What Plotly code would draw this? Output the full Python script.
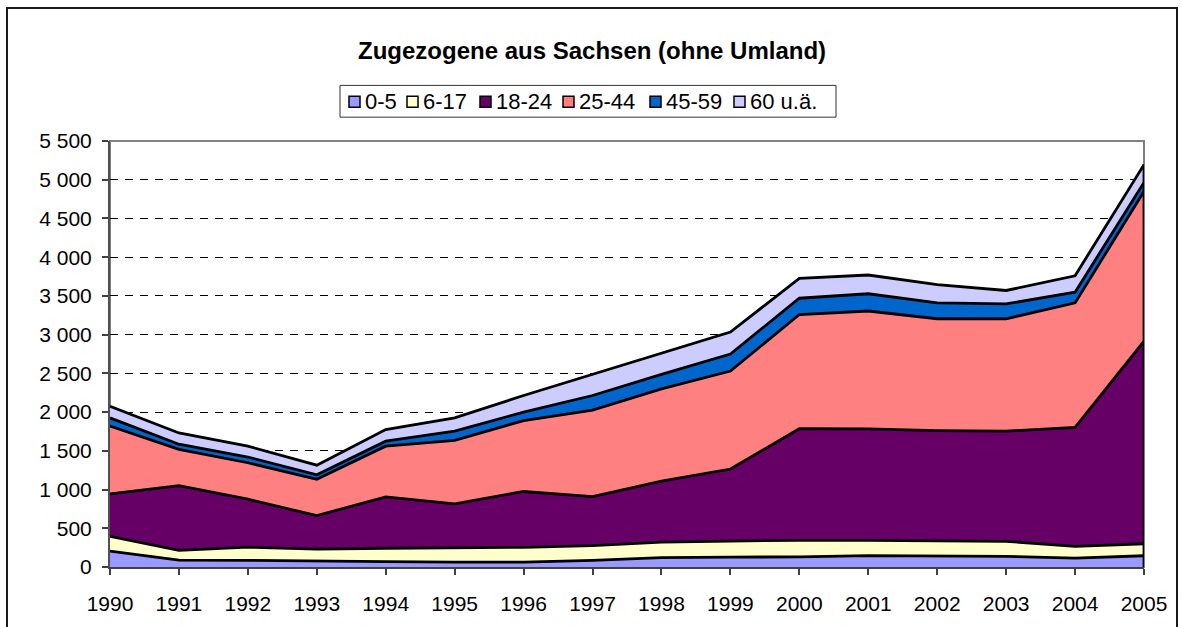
import plotly.graph_objects as go

# ---------------- data ----------------
years = list(range(1990, 2006))
series_names = ["0-5", "6-17", "18-24", "25-44", "45-59", "60 u.ä."]
age_0_5 =   [205, 88, 86, 75, 70, 64, 64, 86, 120, 128, 130, 148, 138, 137, 115, 145]
age_6_17 =  [190, 126, 170, 155, 172, 181, 190, 189, 200, 207, 215, 195, 197, 195, 152, 155]
age_18_24 = [550, 836, 620, 433, 664, 570, 721, 633, 790, 930, 1441, 1441, 1425, 1423, 1536, 2615]
age_25_44 = [875, 470, 470, 469, 654, 820, 915, 1118, 1189, 1265, 1474, 1521, 1445, 1450, 1607, 1935]
age_45_59 = [105, 65, 74, 58, 65, 120, 110, 188, 188, 220, 210, 223, 205, 192, 138, 115]
age_60 =    [150, 145, 140, 125, 150, 170, 214, 273, 278, 284, 256, 242, 235, 173, 212, 230]
series_values = [age_0_5, age_6_17, age_18_24, age_25_44, age_45_59, age_60]
colors = ["#9999FF", "#FFFFCC", "#660066", "#FF8080", "#0066CC", "#CCCCFF"]
y_tickvals = list(range(0, 5501, 500))
title_text = "Zugezogene aus Sachsen (ohne Umland)"

# ---------------- layout geometry (pixels) ----------------
W, H = 1182, 627
PL, PR, PT, PB = 110, 1144, 141, 570  # plot area box
FONT = "Arial, Liberation Sans, sans-serif"


def px_x(px):
    return (px - PL) / (PR - PL)


def px_y(py):
    return (PB - py) / (PB - PT)


fig = go.Figure()
for name, vals, col in zip(series_names, series_values, colors):
    fig.add_trace(go.Scatter(
        x=years, y=vals, name=name, mode="lines", stackgroup="one",
        line=dict(color="black", width=2.8), fillcolor=col, showlegend=False,
    ))

shapes = []
# plot area border (gray)
shapes.append(dict(type="rect", xref="paper", yref="paper", x0=0, x1=1, y0=0, y1=1,
                   line=dict(color="#808080", width=2), layer="below"))
# closing vertical edge of the stacked areas at the last year
total_last = sum(v[-1] for v in series_values)
shapes.append(dict(type="line", xref="x", yref="y", x0=years[-1], x1=years[-1], y0=0, y1=total_last,
                   line=dict(color="black", width=2.8), layer="above"))
# outer chart frame
shapes.append(dict(type="rect", xref="paper", yref="paper",
                   x0=px_x(7), x1=px_x(1177), y0=px_y(645), y1=px_y(7),
                   line=dict(color="#1a1a1a", width=2), layer="below"))
# legend box
shapes.append(dict(type="rect", xref="paper", yref="paper",
                   x0=px_x(340), x1=px_x(836), y0=px_y(117), y1=px_y(85),
                   line=dict(color="#333333", width=1), fillcolor="white", layer="above"))

annotations = []
legend_sq_x = [349, 407, 480, 563, 650, 734]
for sx, name, col in zip(legend_sq_x, series_names, colors):
    shapes.append(dict(type="rect", xref="paper", yref="paper",
                       x0=px_x(sx), x1=px_x(sx + 11), y0=px_y(107), y1=px_y(96),
                       line=dict(color="black", width=1.5), fillcolor=col, layer="above"))
    annotations.append(dict(xref="paper", yref="paper", x=px_x(sx + 14), y=px_y(101.5),
                            xanchor="left", yanchor="middle", showarrow=False, text=name,
                            font=dict(family=FONT, size=22, color="black")))

annotations.append(dict(xref="paper", yref="paper", x=px_x(592), y=px_y(50),
                        xanchor="center", yanchor="middle", showarrow=False,
                        text="<b>" + title_text + "</b>",
                        font=dict(family=FONT, size=24, color="black")))

fig.update_layout(
    width=W, height=H,
    margin=dict(l=PL, r=W - PR, t=PT, b=H - PB, pad=0),
    paper_bgcolor="white", plot_bgcolor="white",
    separators=", ",
    showlegend=False,
    shapes=shapes, annotations=annotations,
    font=dict(family=FONT, size=21, color="black"),
)
fig.update_xaxes(
    range=[years[0], years[-1]], tickmode="array", tickvals=years,
    ticktext=[str(y) for y in years],
    ticks="outside", ticklen=6, tickwidth=1.5, tickcolor="#404040",
    showline=True, linecolor="#404040", linewidth=2,
    showgrid=False, zeroline=False, ticklabelstandoff=11,
    tickfont=dict(family=FONT, size=21, color="black"),
)
fig.update_yaxes(
    range=[0, 5500], tickmode="array", tickvals=y_tickvals,
    tickformat=",d",
    ticks="outside", ticklen=6, tickwidth=1.5, tickcolor="#404040",
    showline=True, linecolor="#505050", linewidth=2,
    showgrid=True, gridcolor="black", gridwidth=1, griddash="8px,7px",
    zeroline=False, ticklabelstandoff=6,
    tickfont=dict(family=FONT, size=21, color="black"),
)

fig.write_html("out.html", config={"displayModeBar": False},
               post_script="document.body.style.margin='0px';document.body.style.overflow='hidden';")
